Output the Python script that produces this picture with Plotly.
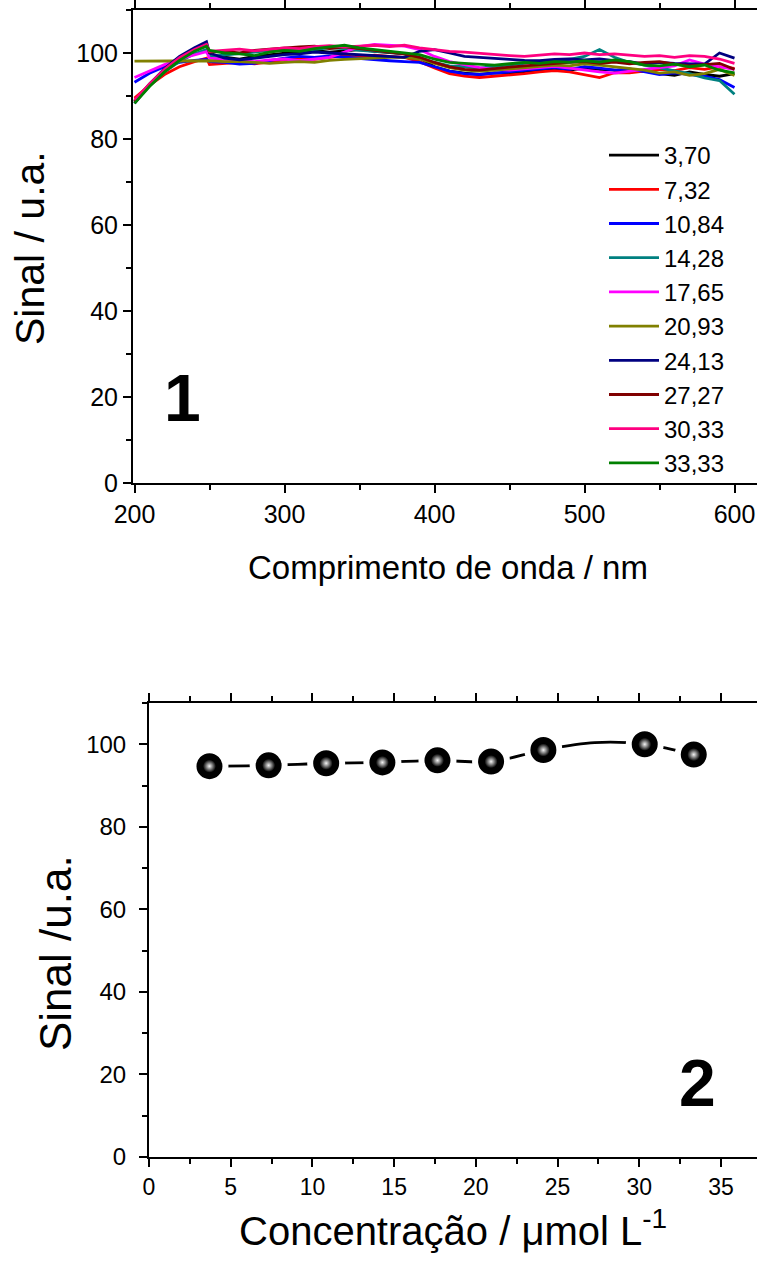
import plotly.graph_objects as go

# ---------------- Panel 1 data ----------------
wavelength = [200, 210, 220, 230, 240, 248,
              250, 260, 270, 280, 290, 300, 310, 320, 330, 340, 350, 360, 370, 380,
              390, 400, 410, 420, 430, 440, 450, 460, 470, 480, 490, 500, 510, 520,
              530, 540, 550, 560, 570, 580, 590, 600]

conc_labels = ["3,70", "7,32", "10,84", "14,28", "17,65", "20,93", "24,13", "27,27", "30,33", "33,33"]
colors = ["#000000", "#FF0000", "#0000FF", "#008080", "#FF00FF",
          "#808000", "#000080", "#800000", "#FF0080", "#008000"]

s_3_70 = [88.8, 92.8, 96.2, 98.9, 100.8, 102.0,
          99.5, 99.0, 98.6, 99.2, 99.6, 100.0, 100.3, 100.6, 100.2, 100.5, 100.8, 100.4, 100.1, 99.8,
          98.8, 96.8, 95.8, 95.3, 95.0, 95.4, 95.2, 95.6, 96.0, 96.3, 96.0, 96.5, 96.2, 96.0,
          95.6, 95.8, 95.2, 94.8, 95.6, 95.0, 94.6, 95.2]
s_7_32 = [89.5, 92.5, 95.0, 96.8, 98.0, 98.8,
          97.3, 97.6, 97.8, 97.5, 98.0, 98.4, 98.8, 98.5, 99.0, 99.3, 99.0, 99.5, 99.2, 99.0,
          98.0, 96.5, 95.2, 94.6, 94.3, 94.6, 94.8, 95.2, 95.6, 95.9, 95.6, 95.0, 94.3, 95.4,
          95.4, 95.8, 96.2, 95.9, 96.6, 96.2, 96.8, 96.4]
s_10_84 = [93.2, 95.3, 96.8, 97.8, 98.3, 98.5,
           98.0, 97.8, 97.4, 97.6, 98.2, 98.8, 99.2, 99.0, 99.3, 99.0, 98.8, 98.5, 98.2, 98.0,
           97.8, 96.8, 95.8, 95.2, 95.0, 95.3, 95.6, 95.9, 96.3, 96.6, 96.2, 96.8, 96.5, 96.0,
           96.3, 95.6, 95.0, 95.4, 95.0, 94.6, 93.8, 92.0]
s_14_28 = [88.6, 92.4, 95.6, 98.0, 99.8, 100.8,
           99.2, 99.5, 99.8, 100.2, 100.6, 100.8, 100.5, 100.9, 101.2, 101.0, 100.6, 100.4, 100.2, 99.8,
           99.0, 97.8, 97.0, 96.8, 96.5, 96.9, 97.2, 97.6, 98.0, 98.3, 98.5, 99.2, 100.8, 99.0,
           97.8, 97.2, 96.5, 95.8, 95.2, 94.2, 93.6, 90.4]
s_17_65 = [94.3, 95.8, 97.3, 98.6, 99.6, 100.3,
           98.8, 98.5, 98.2, 98.0, 98.4, 98.6, 98.2, 98.6, 99.0, 100.2, 101.5, 102.0, 101.8, 101.6,
           100.8, 99.2, 98.0, 97.3, 96.6, 96.2, 96.0, 96.3, 96.6, 96.9, 96.5, 96.0, 95.6, 95.3,
           95.8, 96.2, 96.6, 97.0, 98.4, 97.4, 96.8, 96.2]
s_20_93 = [98.1, 98.1, 98.1, 98.1, 98.1, 98.2,
           98.2, 98.0, 98.0, 97.8, 97.6, 97.8, 98.0, 97.8, 98.3, 98.5, 98.7, 98.8, 99.0, 99.0,
           98.6, 97.6, 96.6, 96.0, 95.8, 96.0, 96.3, 96.6, 96.9, 97.2, 97.0, 97.5, 97.2, 96.8,
           96.5, 96.0, 95.3, 95.6, 94.8, 95.2, 96.2, 94.8]
s_24_13 = [88.3, 92.6, 96.4, 99.2, 101.2, 102.6,
           100.0, 98.8, 98.4, 98.8, 99.2, 99.6, 99.8, 100.2, 100.0, 99.8, 99.6, 99.4, 99.2, 99.0,
           100.4, 100.8, 100.0, 99.2, 99.0, 98.7, 98.5, 98.3, 98.2, 98.5, 98.6, 98.4, 98.6, 98.2,
           98.0, 97.4, 97.8, 97.6, 97.5, 97.4, 100.0, 98.8]
s_27_27 = [88.6, 92.5, 95.9, 98.6, 100.6, 101.8,
           100.2, 100.4, 100.0, 100.6, 100.9, 101.2, 101.4, 101.6, 101.0, 101.4, 101.0, 100.6, 100.2, 99.8,
           99.0, 97.8, 96.8, 96.2, 96.0, 96.4, 96.7, 97.0, 97.3, 97.5, 97.8, 98.0, 97.6, 97.9,
           97.5, 97.8, 98.0, 97.4, 97.0, 97.3, 97.6, 96.2]
s_30_33 = [89.0, 92.8, 96.2, 98.9, 100.8, 102.0,
           100.4, 100.6, 100.9, 100.5, 100.8, 101.2, 101.0, 101.5, 101.7, 101.4, 101.6, 101.8, 101.5, 101.8,
           101.2, 100.8, 100.4, 100.2, 99.9, 99.6, 99.4, 99.2, 99.5, 99.8, 99.6, 100.0, 99.6, 99.8,
           99.5, 99.2, 99.4, 99.0, 99.4, 99.2, 98.6, 97.6]
s_33_33 = [88.3, 92.2, 95.6, 98.3, 100.4, 101.6,
           100.6, 100.0, 99.8, 99.4, 100.2, 100.6, 100.4, 101.0, 101.4, 101.8, 101.2, 100.8, 100.4, 100.0,
           99.6, 98.6, 97.8, 97.6, 97.4, 97.2, 97.5, 97.8, 97.6, 98.0, 97.8, 98.2, 97.9, 98.4,
           98.0, 97.2, 97.0, 97.4, 96.8, 97.2, 96.0, 95.4]

spectra = [s_3_70, s_7_32, s_10_84, s_14_28, s_17_65,
           s_20_93, s_24_13, s_27_27, s_30_33, s_33_33]

# ---------------- Panel 2 data ----------------
concentration = [3.70, 7.32, 10.84, 14.28, 17.65, 20.93, 24.13, 27.27, 30.33, 33.33]
signal = [94.7, 94.9, 95.4, 95.6, 96.1, 95.8, 98.6, 100.4, 100.0, 97.5]
marker_shown = [True, True, True, True, True, True, True, False, True, True]

FONT = "Liberation Sans, Arial, sans-serif"

fig = go.Figure()

for i, (lab, col, ys) in enumerate(zip(conc_labels, colors, spectra)):
    fig.add_trace(go.Scatter(
        x=wavelength, y=ys, mode="lines", name=lab,
        line=dict(color=col, width=2.8), legendgroup=f"g{i}",
        xaxis="x", yaxis="y"))

# panel 2: spline line with gaps around markers
fig.add_trace(go.Scatter(
    x=concentration, y=signal, mode="lines",
    line=dict(color="black", width=2.8, shape="spline", smoothing=1.0),
    showlegend=False, xaxis="x2", yaxis="y2"))

mx = [c for c, s in zip(concentration, marker_shown) if s]
my = [v for v, s in zip(signal, marker_shown) if s]
fig.add_trace(go.Scatter(
    x=mx, y=my, mode="markers",
    marker=dict(size=32, color="black", line=dict(color="white", width=6)),
    showlegend=False, xaxis="x2", yaxis="y2"))
fig.add_trace(go.Scatter(
    x=mx, y=my, mode="markers",
    marker=dict(size=13, color="black",
                gradient=dict(type="radial", color="#f4f4f4"),
                line=dict(width=0)),
    showlegend=False, xaxis="x2", yaxis="y2"))

H = 1263.0
W = 757.0

axis_common = dict(
    showline=True, linecolor="black", linewidth=2,
    ticks="outside", ticklen=8, tickwidth=2, tickcolor="black",
    showgrid=False, zeroline=False, automargin=False,
    tickfont=dict(family=FONT, size=25, color="black"),
)

fig.update_layout(
    width=757, height=1263,
    margin=dict(l=0, r=0, t=0, b=0, autoexpand=False),
    paper_bgcolor="white", plot_bgcolor="white",
    font=dict(family=FONT, color="black"),
    xaxis=dict(axis_common, domain=[133 / W, 1.0], range=[199, 615],
               tickvals=[200, 300, 400, 500, 600], mirror="ticks",
               minor=dict(dtick=50, tick0=0, ticks="outside", ticklen=5, tickwidth=1.5, tickcolor="black"),
               anchor="y"),
    yaxis=dict(axis_common, domain=[(H - 483) / H, (H - 10) / H], range=[0, 110],
               tickvals=[0, 20, 40, 60, 80, 100],
               minor=dict(dtick=10, tick0=0, ticks="outside", ticklen=5, tickwidth=1.5, tickcolor="black"),
               anchor="x"),
    xaxis2=dict(axis_common, domain=[149 / W, 1.0], range=[0, 37.2],
                tickvals=[0, 5, 10, 15, 20, 25, 30, 35], mirror="ticks",
                tickfont=dict(family=FONT, size=23, color="black"),
                minor=dict(dtick=2.5, tick0=0, ticks="outside", ticklen=5, tickwidth=1.5, tickcolor="black"),
                anchor="y2"),
    yaxis2=dict(axis_common, domain=[(H - 1157) / H, (H - 703) / H], range=[0, 110],
                tickvals=[0, 20, 40, 60, 80, 100], ticklabelstandoff=8,
                tickfont=dict(family=FONT, size=24, color="black"),
                minor=dict(dtick=10, tick0=0, ticks="outside", ticklen=5, tickwidth=1.5, tickcolor="black"),
                anchor="x2"),
    legend=dict(x=604 / W, y=(H - 133) / H, xanchor="left", yanchor="top",
                bgcolor="rgba(0,0,0,0)", font=dict(family=FONT, size=24, color="black"),
                tracegroupgap=0, itemwidth=50),
    showlegend=True,
)

def ann(text, cx, cy, size, angle=0):
    return dict(text=text, x=cx / W, y=(H - cy) / H, xref="paper", yref="paper",
                xanchor="center", yanchor="middle", showarrow=False, textangle=angle,
                font=dict(family=FONT, size=size, color="black"))

annotations = [
    ann("Comprimento de onda / nm", (243 + 652) / 2, 567, 33),
    ann("Sinal / u.a.", 30, 248, 41, -90),
    ann("Concentração / μmol L<sup>-1</sup>", (236 + 670) / 2, 1228, 40),
    ann("Sinal /u.a.", 55, 953, 44, -90),
    ann("<b>1</b>", 182, 398, 66),
    ann("<b>2</b>", 697, 1083, 66),
]
fig.update_layout(annotations=annotations)

fig.write_html("out.html")
